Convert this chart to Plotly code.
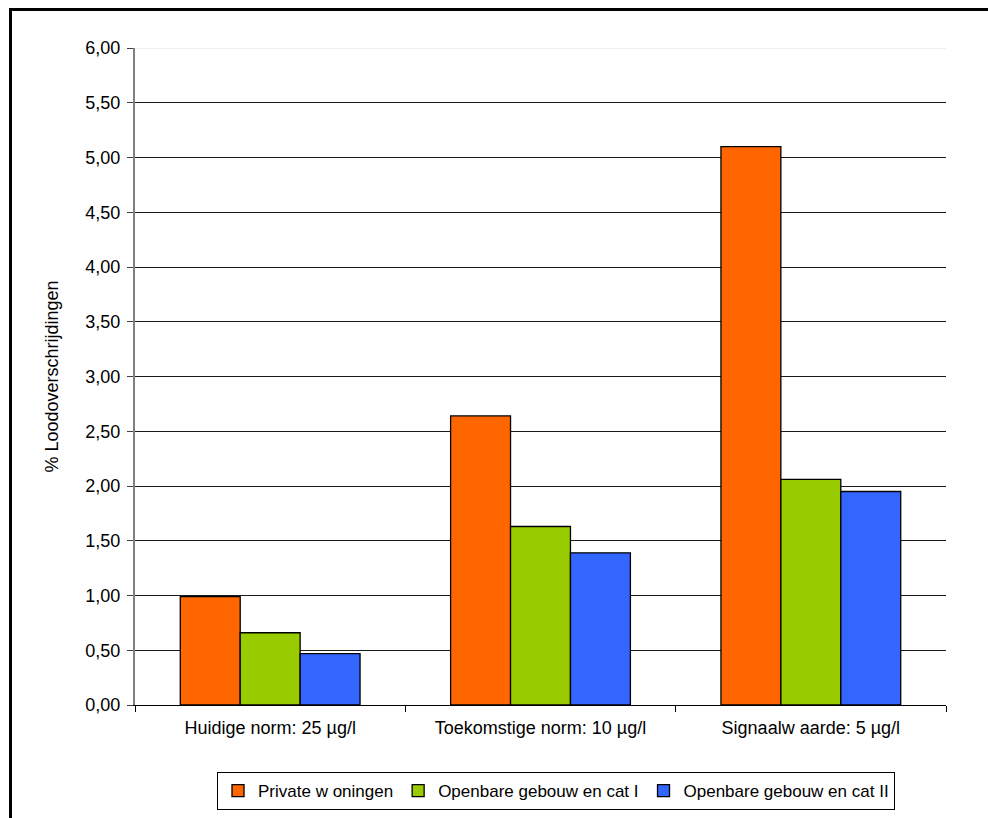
import plotly.graph_objects as go

categories = ["Huidige norm: 25 µg/l", "Toekomstige norm: 10 µg/l", "Signaalw aarde: 5 µg/l"]
series_names = ["Private w oningen", "Openbare gebouw en cat I", "Openbare gebouw en cat II"]
private = [0.99, 2.64, 5.10]
openbaar_cat1 = [0.66, 1.63, 2.06]
openbaar_cat2 = [0.47, 1.39, 1.95]
colors = ["#FF6600", "#99CC00", "#3366FF"]
y_ticks = [0, 0.5, 1, 1.5, 2, 2.5, 3, 3.5, 4, 4.5, 5, 5.5, 6]

FONT = "Liberation Sans, Arial, sans-serif"
FS = 18

fig = go.Figure()
for name, vals, col in zip(series_names, [private, openbaar_cat1, openbaar_cat2], colors):
    fig.add_trace(go.Bar(
        x=categories, y=vals, name=name,
        marker=dict(color=col, line=dict(color="#000000", width=1.3)),
    ))

W, H = 988, 818
L, R, T, B = 135, 42, 48, 113
pw, ph = W - L - R, H - T - B

fig.update_layout(
    width=W, height=H,
    margin=dict(l=L, r=R, t=T, b=B, autoexpand=False),
    paper_bgcolor="white", plot_bgcolor="white",
    barmode="group", bargap=0.335, bargroupgap=0,
    separators=",.",
    font=dict(family=FONT, size=FS, color="#000000"),
    showlegend=True,
    legend=dict(
        orientation="h", x=(556 - L) / pw, xanchor="center",
        y=(H - B - 772) / ph, yanchor="top",
        bordercolor="#000000", borderwidth=1, bgcolor="white",
        font=dict(family=FONT, size=17, color="#000000"),
        itemwidth=30, tracegroupgap=0,
    ),
    xaxis=dict(
        type="category", tickson="boundaries", automargin=False,
        showline=True, linecolor="#000000", linewidth=1,
        ticks="outside", ticklen=6, tickcolor="#000000",
        showgrid=False, tickfont=dict(size=FS), ticklabelstandoff=6,
    ),
    yaxis=dict(
        range=[0, 6], tickvals=y_ticks, tickformat=".2f", automargin=False,
        showline=True, linecolor="#808080", linewidth=2,
        ticks="outside", ticklen=6, tickcolor="#404040",
        showgrid=True, gridcolor="#1a1a1a", gridwidth=1,
        zeroline=False, tickfont=dict(size=FS), ticklabelstandoff=3,
        title=dict(text="% Loodoverschrijdingen", font=dict(size=FS), standoff=22),
    ),
    shapes=[
        dict(type="rect", xref="paper", yref="paper",
             x0=(10.5 - L) / pw, x1=(W + 20 - L) / pw,
             y0=(H - B - (H + 20)) / ph, y1=(H - B - 9.5) / ph,
             line=dict(color="#000000", width=3), fillcolor="rgba(0,0,0,0)", layer="above"),
        dict(type="line", xref="paper", yref="y", x0=0, x1=1, y0=6, y1=6,
             line=dict(color="#e0e0e0", width=1), layer="above"),
    ],
)

fig.write_html("out.html")
